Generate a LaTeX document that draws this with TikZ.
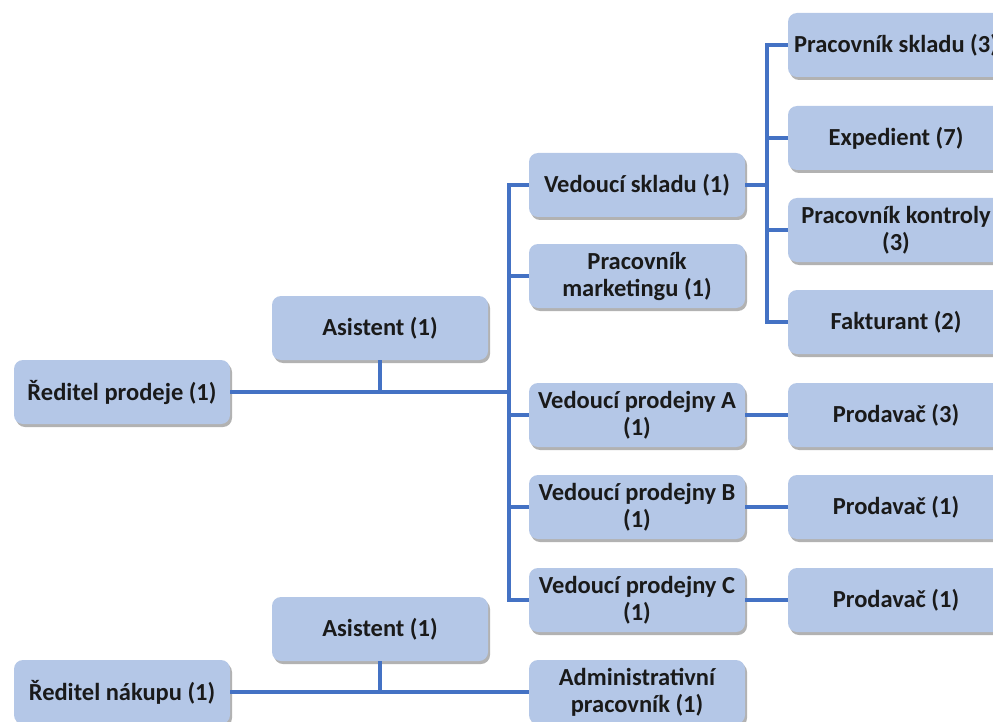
\documentclass[tikz,border=0pt]{standalone}
\usepackage{fontspec}
\setmainfont{Carlito}
\usetikzlibrary{shadows}
\definecolor{boxfill}{HTML}{B4C7E7}
\definecolor{linec}{HTML}{4472C4}
\definecolor{txt}{HTML}{1A1A1A}
\begin{document}
\begin{tikzpicture}[x=1pt,y=-1pt,
  orgbox/.style={rectangle, rounded corners=9pt, fill=boxfill, draw=none,
    minimum width=216pt, minimum height=64pt, inner sep=2pt, align=center,
    text=txt, font=\fontsize{24.5}{27}\selectfont\bfseries,
    drop shadow={shadow xshift=2pt, shadow yshift=-3pt, fill=black!60, opacity=0.5}},
  conn/.style={draw=linec, line width=3.5pt}]
\useasboundingbox (0,0) rectangle (993,722);
\clip (0,0) rectangle (993,722);
% left
\node[orgbox] (rp) at (122,392) {Ředitel prodeje (1)};
\node[orgbox] (as1) at (380,328) {Asistent (1)};
% middle column
\node[orgbox] (vs) at (637,185) {Vedoucí skladu (1)};
\node[orgbox] (pm) at (637,276) {Pracovník\\marketingu (1)};
\node[orgbox] (va) at (637,415) {Vedoucí prodejny A\\(1)};
\node[orgbox] (vb) at (637,507) {Vedoucí prodejny B\\(1)};
\node[orgbox] (vc) at (637,600) {Vedoucí prodejny C\\(1)};
% right column
\node[orgbox] (ps) at (896,45) {Pracovník skladu (3)};
\node[orgbox] (ex) at (896,138) {Expedient (7)};
\node[orgbox] (pk) at (896,230) {Pracovník kontroly\\(3)};
\node[orgbox] (fk) at (896,322) {Fakturant (2)};
\node[orgbox] (pa) at (896,415) {Prodavač (3)};
\node[orgbox] (pb) at (896,507) {Prodavač (1)};
\node[orgbox] (pc) at (896,600) {Prodavač (1)};
% bottom
\node[orgbox] (as2) at (380,629) {Asistent (1)};
\node[orgbox] (rn) at (122,692) {Ředitel nákupu (1)};
\node[orgbox] (ap) at (637,692) {Administrativní\\pracovník (1)};
% coordinates
\coordinate (t1) at (509,392);
\coordinate (t1top) at (509,185);
\coordinate (t1bot) at (509,600);
\coordinate (t2) at (767,185);
\coordinate (t2top) at (767,45);
\coordinate (t2bot) at (767,322);
% connectors
\draw[conn] (rp.east) -- (t1);
\draw[conn] (as1.south) -- (as1.south |- t1);
\draw[conn, line cap=rect] (t1top) -- (t1bot);
\draw[conn] (t1top) -- (vs.west);
\draw[conn] (t1 |- pm.west) -- (pm.west);
\draw[conn] (t1 |- va.west) -- (va.west);
\draw[conn] (t1 |- vb.west) -- (vb.west);
\draw[conn] (t1bot) -- (vc.west);
\draw[conn] (vs.east) -- (t2);
\draw[conn, line cap=rect] (t2top) -- (t2bot);
\draw[conn] (t2top) -- (ps.west);
\draw[conn] (t2 |- ex.west) -- (ex.west);
\draw[conn] (t2 |- pk.west) -- (pk.west);
\draw[conn] (t2bot) -- (fk.west);
\draw[conn] (va.east) -- (pa.west);
\draw[conn] (vb.east) -- (pb.west);
\draw[conn] (vc.east) -- (pc.west);
\draw[conn] (rn.east) -- (ap.west);
\draw[conn] (as2.south) -- (as2.south |- rn.east);
\end{tikzpicture}
\end{document}
